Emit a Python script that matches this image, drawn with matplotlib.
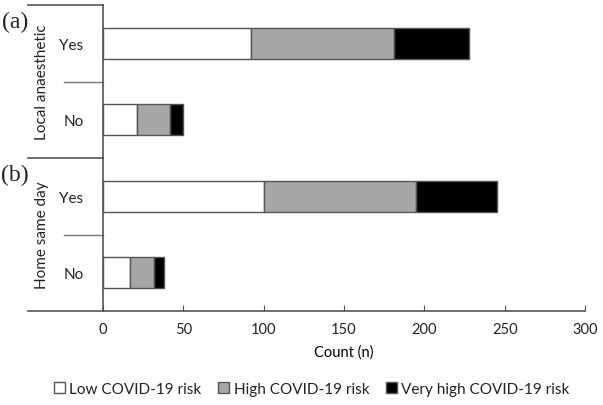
import matplotlib
matplotlib.use('Agg')
import matplotlib.pyplot as plt
from matplotlib.patches import Patch
from matplotlib.lines import Line2D
import matplotlib.transforms as mtransforms

# data
categories = ['Yes', 'No', 'Yes', 'No']
groups = ['Local anaesthetic', 'Home same day']
group_tags = ['(a)', '(b)']
low_risk = [92, 21, 100, 17]
high_risk = [89, 21, 95, 15]
very_high_risk = [47, 8, 50, 6]
series_names = ['Low COVID-19 risk', 'High COVID-19 risk', 'Very high COVID-19 risk']
xticks = [0, 50, 100, 150, 200, 250, 300]

plt.rcParams['font.family'] = ['Lato', 'DejaVu Sans']
plt.rcParams['font.size'] = 10.5
plt.rcParams['text.color'] = '#222222'
plt.rcParams['xtick.labelcolor'] = '#222222'
plt.rcParams['ytick.labelcolor'] = '#222222'

W, H = 603, 406
fig = plt.figure(figsize=(W / 100, H / 100), dpi=100)
ax = fig.add_axes([103 / W, 1 - 312 / H, (585 - 103) / W, (312 - 6) / H])

edge = '#555555'
colors = ['white', '#a6a6a6', 'black']
ypos = list(range(len(categories)))
left = [0] * len(categories)
for vals, col in zip([low_risk, high_risk, very_high_risk], colors):
    ax.barh(ypos, vals, left=left, height=0.41, color=col, edgecolor=edge, linewidth=1)
    left = [a + b for a, b in zip(left, vals)]

ax.set_xlim(0, 300)
ax.set_ylim(3.5, -0.5)
ax.set_xticks(xticks)
ax.set_yticks(ypos)
ax.set_yticklabels(categories, fontsize=11)
ax.tick_params(axis='y', length=0, pad=14)
ax.tick_params(axis='x', direction='in', length=4, color='#555555', pad=8, labelsize=10.5)
ax.set_xlabel('Count (n)', fontsize=10.5, labelpad=6)

for s in ['top', 'right']:
    ax.spines[s].set_visible(False)
for s in ['left', 'bottom']:
    ax.spines[s].set_color('#555555')
    ax.spines[s].set_linewidth(1.2)

# multi-level category axis lines
trans = mtransforms.blended_transform_factory(ax.transAxes, ax.transData)
px = 1 / 482
for y in [-0.5, 1.5, 3.5]:
    ax.add_line(Line2D([(28 - 103) * px, 0], [y, y], transform=trans, color='#555555',
                       lw=1.2, clip_on=False))
for y in [0.5, 2.5]:
    ax.add_line(Line2D([(64 - 103) * px, 0], [y, y], transform=trans, color='#777777',
                       lw=1.0, clip_on=False))

for gi, (g, tag) in enumerate(zip(groups, group_tags)):
    yc = 2 * gi + 0.5
    ax.text((42 - 103) * px, yc, g, transform=trans, rotation=90, ha='center', va='center',
            fontsize=11)
    ax.text((15 - 103) * px, 2 * gi - 0.29, tag, transform=trans, ha='center', va='center',
            fontsize=17, family=['Liberation Serif', 'DejaVu Serif'])

handles = [Patch(facecolor=c, edgecolor=edge, linewidth=1) for c in colors]
fig.legend(handles, series_names, loc='center', bbox_to_anchor=(312 / W, 1 - 390 / H),
           ncol=3, frameon=False, handlelength=0.7, handleheight=0.7, handletextpad=0.3,
           columnspacing=1.1, fontsize=11)

fig.savefig('out.png', dpi=100)
